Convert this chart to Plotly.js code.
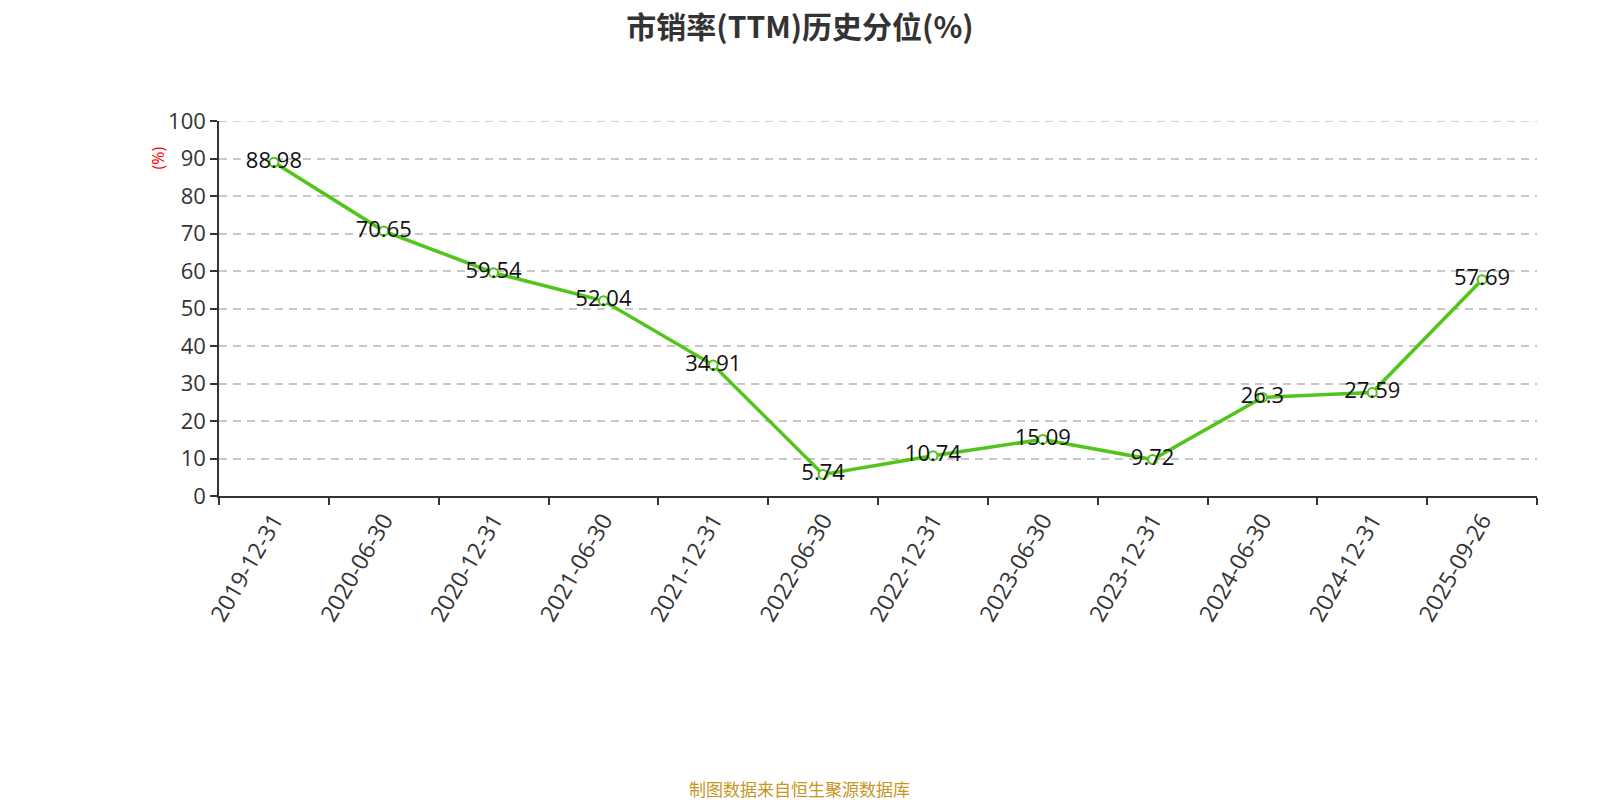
<!DOCTYPE html>
<html>
<head>
<meta charset="utf-8">
<script src="https://cdn.plot.ly/plotly-3.0.1.min.js"></script>
<style>
  body { margin: 0; background: #fff; }
  #chart { width: 1600px; height: 800px; }
</style>
</head>
<body>
<div id="chart"></div>
<script>
const dates = ['2019-12-31', '2020-06-30', '2020-12-31', '2021-06-30', '2021-12-31', '2022-06-30',
               '2022-12-31', '2023-06-30', '2023-12-31', '2024-06-30', '2024-12-31', '2025-09-26'];
const percentile = [88.98, 70.65, 59.54, 52.04, 34.91, 5.74, 10.74, 15.09, 9.72, 26.3, 27.59, 57.69];
const yTicks = [0, 10, 20, 30, 40, 50, 60, 70, 80, 90, 100];

const fontFamily = '"Open Sans", "Noto Sans CJK SC", sans-serif';

let trace = {
    type: 'scatter',
    mode: 'lines+markers+text',
    x: dates,
    y: percentile,
    text: percentile.map(String),
    textposition: 'middle center',
    textfont: { size: 22, color: '#111', family: fontFamily },
    line: { color: '#52c41a', width: 3.5 },
    marker: { size: 9, color: '#fff', line: { color: '#52c41a', width: 2 } },
    cliponaxis: false,
    hoverinfo: 'x+y'
};

const layout = {
    width: 1600,
    height: 800,
    margin: { l: 219, r: 63, t: 121, b: 304 },
    paper_bgcolor: '#fff',
    plot_bgcolor: '#fff',
    showlegend: false,
    font: { family: fontFamily, color: '#333' },
    title: {
        text: '<b>市销率(TTM)历史分位(%)</b>',
        x: 0.5,
        xanchor: 'center',
        y: 0.966,
        yanchor: 'middle',
        font: { size: 30, color: '#333', family: '"Noto Sans CJK SC", sans-serif' }
    },
    xaxis: {
        type: 'category',
        range: [-0.5, 11.5],
        tickson: 'boundaries',
        ticks: 'outside',
        ticklen: 7,
        tickwidth: 1.5,
        tickcolor: '#333',
        showline: true,
        linecolor: '#333',
        linewidth: 1.5,
        showgrid: false,
        tickangle: -60,
        tickfont: { size: 23, color: '#333' },
        fixedrange: true
    },
    yaxis: {
        range: [0, 100],
        tickvals: yTicks,
        ticks: 'outside',
        ticklen: 7,
        tickwidth: 1.5,
        tickcolor: '#333',
        showline: true,
        linecolor: '#333',
        linewidth: 1.5,
        showgrid: true,
        gridcolor: '#c8c8c8',
        griddash: '8px,6px',
        gridwidth: 1.5,
        zeroline: false,
        tickfont: { size: 22, color: '#333' },
        fixedrange: true
    },
    shapes: [
        {
            type: 'line', xref: 'paper', yref: 'y',
            x0: 0, x1: 1, y0: 100, y1: 100,
            line: { color: '#c8c8c8', width: 1.5, dash: '8px,6px' }
        }
    ],
    annotations: [
        {
            text: '(%)',
            xref: 'paper', yref: 'paper',
            x: -0.047, y: 0.9,
            xanchor: 'center', yanchor: 'middle',
            textangle: -90,
            showarrow: false,
            font: { size: 16, color: '#ff0000' }
        },
        {
            text: '制图数据来自恒生聚源数据库',
            xref: 'paper', yref: 'paper',
            x: 0.4408, y: -0.78,
            xanchor: 'center', yanchor: 'middle',
            showarrow: false,
            font: { size: 17, color: '#c8961e', family: '"Noto Sans CJK SC", sans-serif' }
        }
    ]
};

Plotly.newPlot('chart', [trace], layout, { displayModeBar: false, responsive: false });
</script>
</body>
</html>
